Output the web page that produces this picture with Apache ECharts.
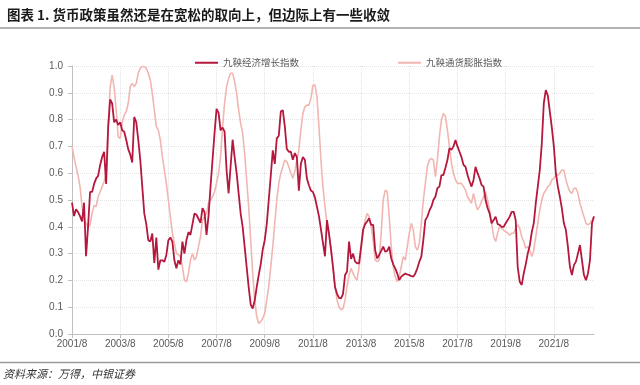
<!DOCTYPE html>
<html>
<head>
<meta charset="utf-8">
<script src="https://cdn.jsdelivr.net/npm/echarts@6/dist/echarts.min.js"></script>
<style>
html,body{margin:0;padding:0;background:#fff;}
#chart{width:640px;height:385px;}
</style>
</head>
<body>
<div id="chart"></div>
<script>
// Months from 2001/8, monthly
const startYear = 2001, startMonth = 8;
const seriesNames = ['九鞅经济增长指数', '九鞅通货膨胀指数'];
const titleText = '图表 1. 货币政策虽然还是在宽松的取向上，但边际上有一些收敛';
const sourceText = '资料来源：万得，中银证券';

const growth = [
0.49,0.44,0.465,0.455,0.44,0.42,0.49,0.29,0.40,0.53,
0.53,0.56,0.58,0.59,0.63,0.66,0.68,0.56,0.77,0.875,
0.86,0.79,0.80,0.78,0.79,0.76,0.755,0.725,0.69,0.67,
0.64,0.81,0.79,0.725,0.65,0.55,0.45,0.41,0.35,0.345,
0.375,0.265,0.36,0.24,0.275,0.275,0.27,0.295,0.35,0.36,
0.345,0.275,0.245,0.275,0.26,0.345,0.30,0.35,0.38,0.37,
0.41,0.45,0.445,0.43,0.415,0.47,0.455,0.37,0.44,0.55,
0.65,0.75,0.84,0.825,0.76,0.77,0.755,0.61,0.525,0.625,
0.725,0.66,0.60,0.525,0.45,0.40,0.325,0.25,0.175,0.11,
0.095,0.125,0.175,0.22,0.26,0.315,0.35,0.41,0.50,0.59,
0.685,0.635,0.73,0.74,0.83,0.835,0.775,0.69,0.68,0.68,
0.65,0.675,0.66,0.535,0.635,0.66,0.65,0.58,0.555,0.535,
0.53,0.51,0.475,0.44,0.39,0.34,0.29,0.425,0.375,0.315,
0.25,0.175,0.15,0.135,0.133,0.15,0.22,0.233,0.345,0.28,
0.30,0.27,0.264,0.264,0.326,0.39,0.41,0.42,0.432,0.407,
0.407,0.313,0.282,0.295,0.31,0.326,0.307,0.31,0.326,0.282,
0.26,0.245,0.226,0.201,0.214,0.22,0.226,0.222,0.22,0.216,
0.214,0.226,0.245,0.27,0.289,0.351,0.425,0.438,0.46,0.475,
0.50,0.512,0.544,0.55,0.593,0.593,0.62,0.649,0.693,0.687,
0.70,0.724,0.70,0.68,0.66,0.631,0.624,0.593,0.57,0.55,
0.575,0.624,0.60,0.581,0.556,0.55,0.50,0.47,0.45,0.413,
0.425,0.438,0.41,0.407,0.40,0.40,0.413,0.425,0.438,0.456,
0.456,0.425,0.25,0.195,0.183,0.226,0.26,0.30,0.33,0.38,
0.413,0.488,0.55,0.612,0.711,0.861,0.91,0.89,0.83,0.77,
0.70,0.60,0.55,0.512,0.469,0.413,0.388,0.326,0.251,0.22,
0.257,0.27,0.30,0.332,0.276,0.22,0.201,0.226,0.276,0.413,0.438
];

const inflation = [
0.70,0.66,0.625,0.593,0.55,0.475,0.425,0.413,0.40,0.407,
0.45,0.48,0.475,0.512,0.53,0.55,0.568,0.60,0.77,0.92,
0.966,0.92,0.836,0.736,0.73,0.79,0.817,0.83,0.86,0.923,
0.935,0.923,0.935,0.973,0.991,0.998,0.998,0.991,0.973,0.948,
0.898,0.836,0.774,0.761,0.724,0.662,0.612,0.562,0.50,0.438,
0.376,0.338,0.301,0.295,0.289,0.251,0.201,0.195,0.226,0.276,
0.30,0.276,0.289,0.326,0.363,0.425,0.438,0.45,0.488,0.50,
0.512,0.531,0.562,0.60,0.662,0.774,0.861,0.923,0.954,0.973,
0.973,0.942,0.898,0.836,0.786,0.749,0.674,0.575,0.475,0.351,
0.226,0.127,0.065,0.04,0.046,0.058,0.077,0.127,0.177,0.251,
0.326,0.413,0.50,0.562,0.60,0.624,0.649,0.643,0.624,0.60,
0.581,0.606,0.649,0.687,0.761,0.823,0.848,0.854,0.854,0.879,
0.929,0.929,0.886,0.774,0.649,0.55,0.475,0.413,0.37,0.32,
0.25,0.18,0.127,0.10,0.09,0.095,0.127,0.177,0.22,0.245,
0.226,0.21,0.201,0.251,0.313,0.376,0.425,0.45,0.438,0.40,
0.351,0.276,0.27,0.276,0.376,0.50,0.537,0.531,0.438,0.326,
0.251,0.214,0.195,0.214,0.251,0.289,0.276,0.326,0.376,0.413,
0.388,0.326,0.313,0.338,0.413,0.50,0.562,0.624,0.649,0.655,
0.649,0.587,0.649,0.736,0.798,0.823,0.811,0.761,0.699,0.637,
0.60,0.575,0.562,0.562,0.562,0.55,0.537,0.512,0.50,0.488,
0.525,0.488,0.463,0.475,0.494,0.512,0.531,0.50,0.463,0.413,
0.363,0.345,0.376,0.40,0.394,0.388,0.382,0.376,0.369,0.376,
0.376,0.394,0.407,0.394,0.363,0.345,0.32,0.326,0.313,0.289,
0.313,0.363,0.413,0.463,0.50,0.525,0.537,0.55,0.556,0.575,
0.581,0.593,0.593,0.60,0.612,0.612,0.575,0.55,0.531,0.525,
0.544,0.544,0.525,0.488,0.463,0.438,0.413,0.407,0.413,0.425,0.44
];

const categories = [];
for (let i = 0; i < growth.length; i++) {
  const t = (startMonth - 1) + i;
  categories.push((startYear + Math.floor(t / 12)) + '/' + (t % 12 + 1));
}

const chart = echarts.init(document.getElementById('chart'), null, {renderer: 'canvas'});
const axisFont = 'Liberation Sans, Arial, sans-serif';
const cjkFont = '"Noto Sans CJK SC", sans-serif';
chart.setOption({
  animation: false,
  backgroundColor: '#ffffff',
  title: {
    text: titleText,
    left: 2, top: 3,
    textStyle: {fontFamily: cjkFont, fontSize: 13.5, fontWeight: 'bold', color: '#1a1a1a'}
  },
  graphic: [
    {type: 'line', shape: {x1: 0, y1: 28, x2: 640, y2: 28}, style: {stroke: '#9a9a9a', lineWidth: 1.5}},
    {type: 'line', shape: {x1: 0, y1: 362.5, x2: 640, y2: 362.5}, style: {stroke: '#9a9a9a', lineWidth: 1.5}},
    {type: 'text', left: 3, top: 368, style: {text: sourceText, font: 'italic 11px "Noto Sans CJK SC", sans-serif', fill: '#333333'}}
  ],
  legend: {
    data: [seriesNames[0], seriesNames[1]],
    left: 190, top: 53,
    itemWidth: 23, itemHeight: 2, itemGap: 99,
    icon: 'rect',
    textStyle: {fontFamily: cjkFont, fontSize: 9.5, color: '#595959'}
  },
  grid: {left: 72, right: 46, top: 66, bottom: 51, containLabel: false},
  xAxis: {
    type: 'category',
    data: categories,
    boundaryGap: false,
    axisLine: {lineStyle: {color: '#BFBFBF', width: 1}},
    axisTick: {show: true, interval: 23, length: 4, lineStyle: {color: '#BFBFBF'}},
    axisLabel: {interval: 23, color: '#595959', fontFamily: axisFont, fontSize: 10, margin: 5},
    splitLine: {show: true, interval: 23, lineStyle: {color: '#E3E3E3', type: 'dotted'}}
  },
  yAxis: {
    type: 'value',
    min: 0, max: 1, interval: 0.1,
    axisLine: {show: true, lineStyle: {color: '#BFBFBF', width: 1}},
    axisTick: {show: true, length: 4, lineStyle: {color: '#BFBFBF'}},
    axisLabel: {color: '#595959', fontFamily: axisFont, fontSize: 10, margin: 9,
      formatter: v => v.toFixed(1)},
    splitLine: {show: true, lineStyle: {color: '#E3E3E3', type: 'dotted'}}
  },
  series: [
    {name: seriesNames[1], type: 'line', data: inflation, showSymbol: false, symbol: 'none',
      lineStyle: {color: '#F2B6B0', width: 1.6}, itemStyle: {color: '#F2B6B0'}, z: 2},
    {name: seriesNames[0], type: 'line', data: growth, showSymbol: false, symbol: 'none',
      lineStyle: {color: '#B5173D', width: 1.8}, itemStyle: {color: '#B5173D'}, z: 3}
  ]
});
</script>
</body>
</html>
